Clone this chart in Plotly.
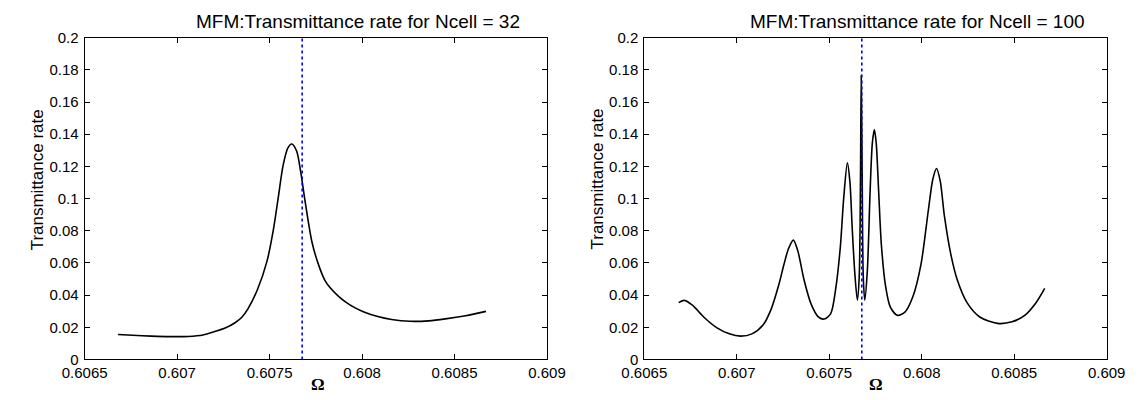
import plotly.graph_objects as go

# ---- data ----
omega_32 = [0.60668, 0.60676, 0.60686, 0.60696, 0.60706, 0.60714, 0.607208, 0.60726,
            0.607313, 0.60735, 0.607382, 0.607434, 0.607486, 0.607521, 0.607547, 0.607573,
            0.607599, 0.60762, 0.607646, 0.607668, 0.607694, 0.607729, 0.607764, 0.607799,
            0.60783, 0.60787, 0.60791, 0.60796, 0.60801, 0.60808, 0.60816, 0.60826,
            0.60836, 0.60845, 0.60856, 0.60867]
trans_32 = [0.0155, 0.0150, 0.0145, 0.0142, 0.0143, 0.0152, 0.0175, 0.0195,
            0.0228, 0.0262, 0.0313, 0.0433, 0.0611, 0.0810, 0.1008, 0.1206,
            0.1315, 0.1339, 0.1296, 0.1167, 0.0968, 0.0730, 0.0591, 0.0492,
            0.0442, 0.0395, 0.0358, 0.0322, 0.0295, 0.0268, 0.0248, 0.0237,
            0.0240, 0.0252, 0.0272, 0.0299]

omega_100 = [0.606686, 0.606717, 0.60676, 0.606821, 0.606891, 0.60696, 0.607021, 0.607082,
             0.607142, 0.607186, 0.607229, 0.607255, 0.60728, 0.607306, 0.60733, 0.607364,
             0.607402, 0.607441, 0.607473, 0.607508, 0.607535, 0.60756, 0.607578, 0.607598,
             0.607612, 0.607624, 0.607638, 0.607652, 0.607662, 0.607669, 0.607673, 0.607678,
             0.607684, 0.607692, 0.607706, 0.607721, 0.607733, 0.607744, 0.607754, 0.607767,
             0.607782, 0.607805, 0.607831, 0.607869, 0.607909, 0.607953, 0.607996, 0.608036,
             0.60806, 0.60808, 0.60810, 0.608123, 0.608158, 0.608193, 0.608245, 0.608314,
             0.60841, 0.608488, 0.608557, 0.608618, 0.608665]
trans_100 = [0.0353, 0.0367, 0.0337, 0.0264, 0.0198, 0.0159, 0.0145, 0.0159,
             0.0214, 0.0313, 0.0472, 0.0590, 0.0690, 0.0742, 0.0675, 0.0494,
             0.0344, 0.0265, 0.0251, 0.0285, 0.0440, 0.0700, 0.1000, 0.1222,
             0.1100, 0.0820, 0.0540, 0.0369, 0.0512, 0.1147, 0.1766, 0.1147,
             0.0512, 0.0369, 0.0552, 0.1048, 0.1345, 0.1429, 0.1345, 0.1048,
             0.0710, 0.0452, 0.0323, 0.0274, 0.0294, 0.0393, 0.0591, 0.0929,
             0.1120, 0.1187, 0.1110, 0.0889, 0.0650, 0.0492, 0.0353, 0.0264,
             0.0224, 0.0234, 0.0274, 0.0353, 0.0442]

omega_ref = 0.607676
titles = ["MFM:Transmittance rate for Ncell = 32", "MFM:Transmittance rate for Ncell = 100"]
x_ticks = [0.6065, 0.607, 0.6075, 0.608, 0.6085, 0.609]
x_tick_text = ["0.6065", "0.607", "0.6075", "0.608", "0.6085", "0.609"]
y_ticks = [0, 0.02, 0.04, 0.06, 0.08, 0.1, 0.12, 0.14, 0.16, 0.18, 0.2]
y_tick_text = ["0", "0.02", "0.04", "0.06", "0.08", "0.1", "0.12", "0.14", "0.16", "0.18", "0.2"]

W, H = 1143, 400
FONT = "Liberation Sans, Arial, sans-serif"

fig = go.Figure()
fig.add_trace(go.Scatter(x=omega_32, y=trans_32, mode="lines", xaxis="x", yaxis="y",
                         line=dict(color="black", width=1.6, shape="spline", smoothing=0.8),
                         showlegend=False, hoverinfo="skip"))
fig.add_trace(go.Scatter(x=[omega_ref, omega_ref], y=[0, 0.2], mode="lines", xaxis="x", yaxis="y",
                         line=dict(color="#0000ff", width=1.6, dash="dot"), showlegend=False))
fig.add_trace(go.Scatter(x=omega_100, y=trans_100, mode="lines", xaxis="x2", yaxis="y2",
                         line=dict(color="black", width=1.6, shape="spline", smoothing=0.8),
                         showlegend=False, hoverinfo="skip"))
fig.add_trace(go.Scatter(x=[omega_ref, omega_ref], y=[0, 0.2], mode="lines", xaxis="x2", yaxis="y2",
                         line=dict(color="#0000ff", width=1.6, dash="dot"), showlegend=False))

yd = [1 - 366 / H, 1 - 30 / H]
ax_common = dict(showgrid=False, zeroline=False, showline=True, linecolor="black", linewidth=1,
                 mirror="ticks", ticks="inside", ticklen=5, tickcolor="black", tickwidth=1,
                 tickfont=dict(family=FONT, size=15, color="black"))

fig.update_layout(
    width=W, height=H, margin=dict(l=0, r=0, t=0, b=0),
    paper_bgcolor="white", plot_bgcolor="white",
    xaxis=dict(domain=[64 / W, 544 / W], range=[0.6065, 0.609], tickvals=x_ticks, ticktext=x_tick_text,
               anchor="y", **ax_common),
    yaxis=dict(domain=yd, range=[0, 0.2], tickvals=y_ticks, ticktext=y_tick_text, anchor="x",
               ticklabelstandoff=2, **ax_common),
    xaxis2=dict(domain=[645 / W, 1125 / W], range=[0.6065, 0.609], tickvals=x_ticks, ticktext=x_tick_text,
                anchor="y2", **ax_common),
    yaxis2=dict(domain=yd, range=[0, 0.2], tickvals=y_ticks, ticktext=y_tick_text, anchor="x2",
                ticklabelstandoff=2, **ax_common),
)

ann = []
for cx, t in [(348, titles[0]), (929, titles[1])]:
    ann.append(dict(text=t, x=cx / W, y=1 - 13 / H, xref="paper", yref="paper", showarrow=False,
                    xanchor="center", yanchor="middle", font=dict(family=FONT, size=19, color="black")))
for cx in [15.5, 596]:
    ann.append(dict(text="Transmittance rate", x=cx / W, y=1 - 178 / H, xref="paper", yref="paper",
                    showarrow=False, textangle=-90, xanchor="center", yanchor="middle",
                    font=dict(family=FONT, size=17, color="black")))
for cx in [306, 886]:
    ann.append(dict(text="<b>Ω</b>", x=cx / W, y=1 - 392 / H, xref="paper", yref="paper",
                    showarrow=False, xanchor="center", yanchor="middle",
                    font=dict(family="Liberation Serif, Times New Roman, serif", size=17, color="black")))
fig.update_layout(annotations=ann)

fig.write_html("out.html")
